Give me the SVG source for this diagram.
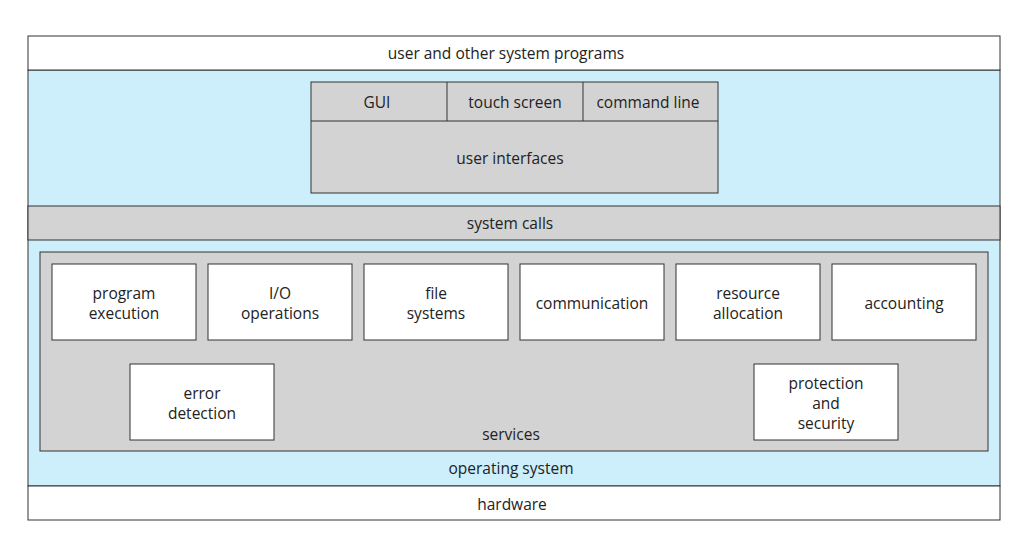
<svg xmlns="http://www.w3.org/2000/svg" width="1029" height="557" viewBox="0 0 1029 557">
<style>
.w{fill:#fff;stroke:#333;stroke-width:1}
.g{fill:#d3d3d3;stroke:#333;stroke-width:1}
.b{fill:#cdeefb;stroke:#333;stroke-width:1}
text{font-family:"Open Sans","Liberation Sans",sans-serif;font-size:15.5px;fill:#222;text-anchor:middle;dominant-baseline:central}
</style>
<rect width="1029" height="557" fill="#fff"/>
<g id="os-region"><rect class="b" x="28" y="70" width="972" height="416"/></g>
<g id="user-programs"><rect class="w" x="28" y="36" width="972" height="34"/><text x="506" y="53">user and other system programs</text></g>
<g id="user-interfaces"><rect class="g" x="311" y="82" width="407" height="111"/><line x1="311" y1="121" x2="718" y2="121" stroke="#333"/><line x1="447" y1="82" x2="447" y2="121" stroke="#333"/><line x1="583" y1="82" x2="583" y2="121" stroke="#333"/>
<text x="377" y="102">GUI</text><text x="515" y="102">touch screen</text><text x="648" y="102">command line</text><text x="510" y="158">user interfaces</text></g>
<g id="system-calls"><rect class="g" x="28" y="206" width="972" height="34"/><text x="510" y="223">system calls</text></g>
<g id="services"><rect class="g" x="40" y="252" width="948" height="199"/><text x="511" y="434">services</text></g>
<g id="program-execution"><rect class="w" x="52" y="264" width="144" height="76"/><text x="124" y="293">program</text><text x="124" y="313">execution</text></g>
<g id="io-operations"><rect class="w" x="208" y="264" width="144" height="76"/><text x="280" y="293">I/O</text><text x="280" y="313">operations</text></g>
<g id="file-systems"><rect class="w" x="364" y="264" width="144" height="76"/><text x="436" y="293">file</text><text x="436" y="313">systems</text></g>
<g id="communication"><rect class="w" x="520" y="264" width="144" height="76"/><text x="592" y="303">communication</text></g>
<g id="resource-allocation"><rect class="w" x="676" y="264" width="144" height="76"/><text x="748" y="293">resource</text><text x="748" y="313">allocation</text></g>
<g id="accounting"><rect class="w" x="832" y="264" width="144" height="76"/><text x="904" y="303">accounting</text></g>
<g id="error-detection"><rect class="w" x="130" y="364" width="144" height="76"/><text x="202" y="393">error</text><text x="202" y="413">detection</text></g>
<g id="protection-security"><rect class="w" x="754" y="364" width="144" height="76"/><text x="826" y="383">protection</text><text x="826" y="403">and</text><text x="826" y="423">security</text></g>
<g id="os-label"><text x="511" y="468">operating system</text></g>
<g id="hardware"><rect class="w" x="28" y="486" width="972" height="34"/><text x="512" y="504">hardware</text></g>
<g id="connectors"></g>
</svg>
